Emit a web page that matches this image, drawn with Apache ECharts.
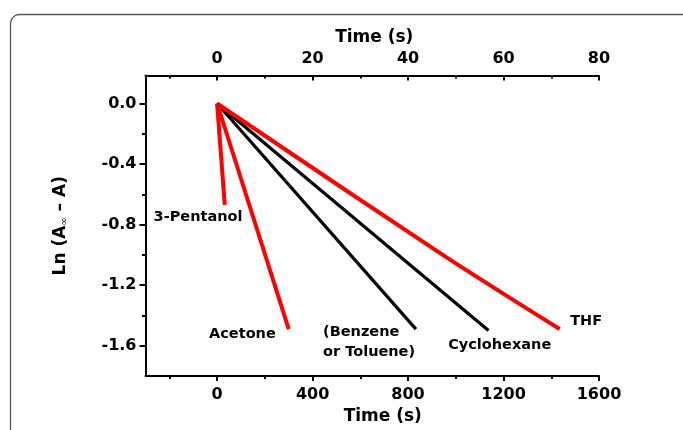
<!DOCTYPE html>
<html>
<head>
<meta charset="utf-8">
<script src="https://cdn.jsdelivr.net/npm/echarts@6/dist/echarts.min.js"></script>
<style>
html,body{margin:0;padding:0;background:#fff;}
#chart{width:683px;height:430px;}
</style>
</head>
<body>
<div id="chart"></div>
<script>
// ---- data ----
var solvents = ['3-Pentanol', 'Acetone', '(Benzene\nor Toluene)', 'Cyclohexane', 'THF'];
var pentanolData = [[0, 0], [32, -0.67]];
var acetoneData = [[0, 0], [300, -1.49]];
var benzeneData = [[0, 0], [833, -1.49]];
var cyclohexaneData = [[0, 0], [1137, -1.50]];
var thfData = [[0, 0], [936, -0.99], [1435, -1.49]];
var bottomTicks = [0, 400, 800, 1200, 1600];
var bottomMinor = [-200, 200, 600, 1000, 1400];
var topTicks = [0, 20, 40, 60, 80];
var topMinor = [-10, 10, 30, 50, 70];
var yTicks = [0, -0.4, -0.8, -1.2, -1.6];
var yMinor = [-0.2, -0.6, -1.0, -1.4];
// label anchors in data coordinates
var labelAnchors = [
  {text: solvents[0], x: -80, y: -0.754, align: 'center'},
  {text: solvents[1], x: 106, y: -1.521, align: 'center'},
  {text: solvents[2], x: 444, y: -1.58, align: 'left'},
  {text: solvents[3], x: 1184, y: -1.598, align: 'center'},
  {text: solvents[4], x: 1546, y: -1.435, align: 'center'}
];

var FONT = 'DejaVu Sans';
var axisLineStyle = {color: '#000', width: 2};
function plain(v) { return String(v); }

var chart = echarts.init(document.getElementById('chart'), null, {renderer: 'canvas'});
var option = {
  backgroundColor: '#fff',
  animation: false,
  graphic: [{
    type: 'rect',
    shape: {x: 10.5, y: 14.5, width: 720, height: 460, r: 9},
    style: {fill: 'none', stroke: '#555', lineWidth: 1.3},
    silent: true, z: -10
  }],
  grid: {left: 145.5, right: 84, top: 75.5, bottom: 53, containLabel: false},
  xAxis: [
    {
      type: 'value', position: 'bottom', min: -300, max: 1600,
      splitLine: {show: false},
      axisLine: {show: true, onZero: false, lineStyle: axisLineStyle},
      axisTick: {show: true, customValues: bottomTicks, length: 5, lineStyle: {width: 2, color: '#000'}},
      axisLabel: {customValues: bottomTicks, formatter: plain, margin: 11, fontFamily: FONT, fontWeight: 'bold', fontSize: 16, color: '#000'},
      name: 'Time (s)', nameLocation: 'middle', nameGap: 32,
      nameTextStyle: {fontFamily: FONT, fontWeight: 'bold', fontSize: 17, color: '#000', padding: [0, 0, 0, 21]}
    },
    {
      type: 'value', position: 'bottom', min: -300, max: 1600,
      splitLine: {show: false},
      axisLine: {show: false, onZero: false},
      axisTick: {show: true, customValues: bottomMinor, length: 3, lineStyle: {width: 2, color: '#000'}},
      axisLabel: {show: false}
    },
    {
      type: 'value', position: 'top', min: -15, max: 80,
      splitLine: {show: false},
      axisLine: {show: true, onZero: false, lineStyle: axisLineStyle},
      axisTick: {show: true, inside: true, customValues: topTicks, length: 5, lineStyle: {width: 2, color: '#000'}},
      axisLabel: {customValues: topTicks, formatter: plain, margin: 9, fontFamily: FONT, fontWeight: 'bold', fontSize: 16, color: '#000'},
      name: 'Time (s)', nameLocation: 'middle', nameGap: 29,
      nameTextStyle: {fontFamily: FONT, fontWeight: 'bold', fontSize: 17, color: '#000', padding: [0, 0, 0, 4]}
    },
    {
      type: 'value', position: 'top', min: -15, max: 80,
      splitLine: {show: false},
      axisLine: {show: false, onZero: false},
      axisTick: {show: true, inside: true, customValues: topMinor, length: 3, lineStyle: {width: 2, color: '#000'}},
      axisLabel: {show: false}
    }
  ],
  yAxis: [
    {
      type: 'value', position: 'left', min: -1.8, max: 0.185,
      splitLine: {show: false},
      axisLine: {show: true, onZero: false, lineStyle: axisLineStyle},
      axisTick: {show: true, customValues: yTicks, length: 6, lineStyle: {width: 2, color: '#000'}},
      axisLabel: {customValues: yTicks, margin: 9, fontFamily: FONT, fontWeight: 'bold', fontSize: 16, color: '#000',
        formatter: function (v) { return (Math.abs(v) < 1e-9 ? 0 : v).toFixed(1); }},
      name: '{m|Ln (A}{s|∞}{m| – A)}', nameLocation: 'middle', nameRotate: 90, nameGap: 76,
      nameTextStyle: {
        rich: {
          m: {fontFamily: FONT, fontWeight: 'bold', fontSize: 17, color: '#000'},
          s: {fontFamily: FONT, fontWeight: 'normal', fontSize: 10, color: '#000', padding: [6, 0, 0, 0]}
        }
      }
    },
    {
      type: 'value', position: 'left', min: -1.8, max: 0.185,
      splitLine: {show: false},
      axisLine: {show: false, onZero: false},
      axisTick: {show: true, customValues: yMinor, length: 3.5, lineStyle: {width: 2, color: '#000'}},
      axisLabel: {show: false}
    }
  ],
  series: [
    {type: 'line', data: benzeneData, showSymbol: false, lineStyle: {color: '#000', width: 3.2}, z: 2},
    {type: 'line', data: cyclohexaneData, showSymbol: false, lineStyle: {color: '#000', width: 3.2}, z: 2},
    {type: 'line', data: pentanolData, showSymbol: false, lineStyle: {color: '#ff0000', width: 4}, z: 3},
    {type: 'line', data: acetoneData, showSymbol: false, lineStyle: {color: '#ff0000', width: 4}, z: 3},
    {type: 'line', data: thfData, smooth: 0.3, showSymbol: false, lineStyle: {color: '#ff0000', width: 4}, z: 3},
    {
      type: 'scatter', symbolSize: 0, z: 5, itemStyle: {opacity: 1},
      data: labelAnchors.map(function (a) {
        return {
          value: [a.x, a.y],
          label: {
            show: true, position: 'inside', formatter: a.text, align: a.align,
            fontFamily: FONT, fontWeight: 'bold', fontSize: 14.5, color: '#000',
            textBorderWidth: 0, lineHeight: 20
          }
        };
      })
    }
  ]
};
chart.setOption(option);
</script>
</body>
</html>
